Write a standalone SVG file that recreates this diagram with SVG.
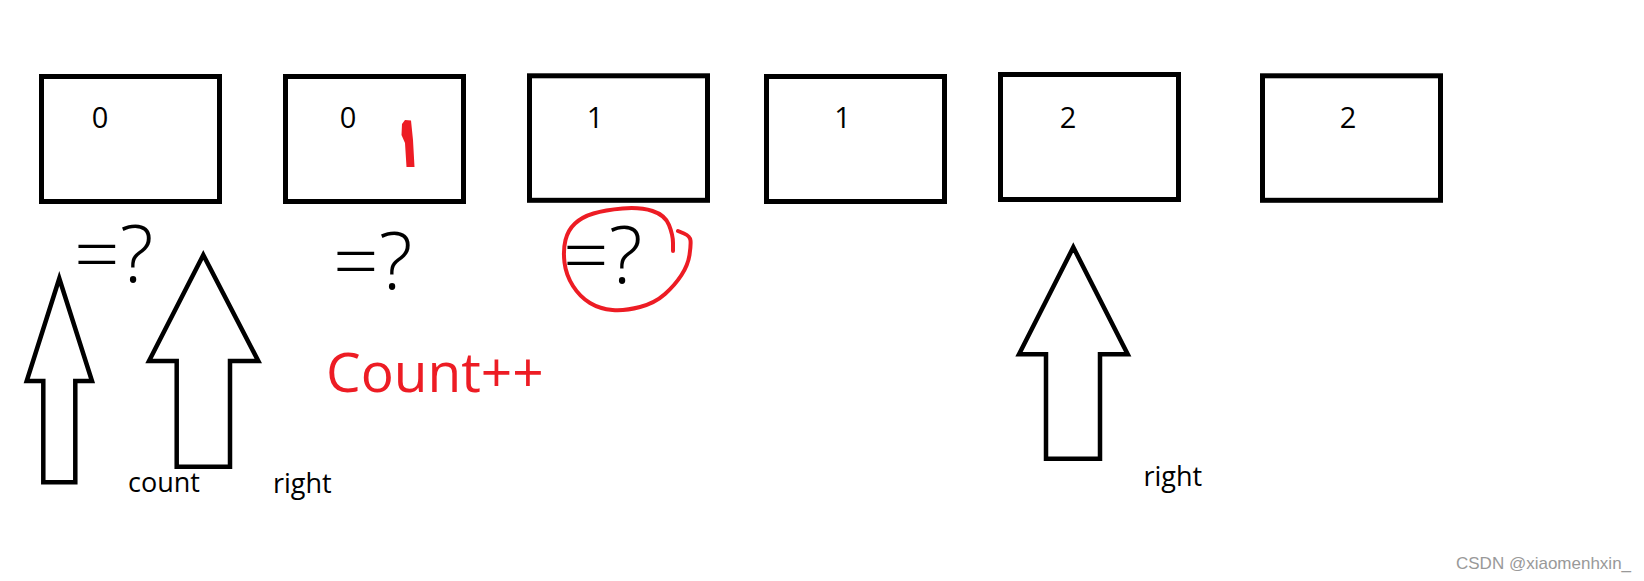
<svg xmlns="http://www.w3.org/2000/svg" width="1644" height="581" viewBox="0 0 1644 581">
<style>
.box{fill:#fff;stroke:#000;stroke-width:5}
.arrow{fill:#fff;stroke:#000;stroke-width:4.5;stroke-linejoin:miter}
.num{font-family:"Open Sans","Noto Sans",sans-serif;font-size:29px;fill:#000;text-anchor:middle}
.lbl{font-family:"Open Sans","Noto Sans",sans-serif;font-size:27px;fill:#000}
.q{font-family:"Open Sans","Noto Sans",sans-serif;font-size:80px;font-weight:300;fill:#000}
.red{font-family:"Open Sans","Noto Sans",sans-serif;font-size:55px;fill:#ED1C24}
.mark{fill:none;stroke:#ED1C24;stroke-width:4;stroke-linecap:round;stroke-linejoin:round}
</style>
<rect width="1644" height="581" fill="#fff"/>
<g id="node1"><rect class="box" x="41.5" y="76.5" width="178" height="125"/><text class="num" x="100" y="128">0</text></g>
<g id="node2"><rect class="box" x="285.5" y="76.5" width="178" height="125"/><text class="num" x="348" y="128">0</text>
<path d="M402,124 L405,120 L411,120.5 L413,140 L414.5,167 L406.5,167 L405,143 L401.5,135 Z" fill="#ED1C24"/></g>
<g id="node3"><rect class="box" x="529.5" y="75.8" width="178" height="124.5"/><text class="num" x="595" y="128">1</text></g>
<g id="node4"><rect class="box" x="766.5" y="76.5" width="178" height="125"/><text class="num" x="842.5" y="128">1</text></g>
<g id="node5"><rect class="box" x="1000.5" y="74.5" width="178" height="125"/><text class="num" x="1068" y="128">2</text></g>
<g id="node6"><rect class="box" x="1262.5" y="75.8" width="178" height="124.5"/><text class="num" x="1348" y="128">2</text></g>
<g id="connectors">
<polygon class="arrow" points="59.3,278.5 92,381 75.3,381 75.3,482.3 43.3,482.3 43.3,381 26.7,381"/>
<polygon class="arrow" points="203.3,255 258.3,361 230,361 230,466.7 176.7,466.7 176.7,361 149,361"/>
<polygon class="arrow" points="1073.3,247.3 1127.7,354.3 1100,354.3 1100,458.7 1046,458.7 1046,354.3 1019,354.3"/>
</g>
<g id="annotations">
<text class="q" x="74" y="282">=?</text>
<text class="q" x="333" y="288.5">=?</text>
<text class="q" x="563" y="283">=?</text>
<path class="mark" d="M678,231 L684,233.5 Q690,236 690.5,240.5 Q691,245 689.5,255 Q688,265 681.5,275 Q675,285 665,294 Q655,303 640,307 Q625,311 612.5,310 Q600,309 590,303 Q580,297 573,286 Q566,275 564.5,262.5 Q563,250 565.5,240 Q568,230 575,223.5 Q582,217 593.5,213.5 Q605,210 622.5,208.5 Q640,207 652.5,211 Q665,215 669,225 Q673,235 673,243 L673,251"/>
<text class="red" x="326" y="392">Count++</text>
<text class="lbl" x="128" y="491.7">count</text>
<text class="lbl" x="273" y="492.7">right</text>
<text class="lbl" x="1143.5" y="486">right</text>
<text x="1456" y="569.3" font-family="Liberation Sans, Arial, sans-serif" font-size="17" fill="#999">CSDN @xiaomenhxin_</text>
</g>
</svg>
